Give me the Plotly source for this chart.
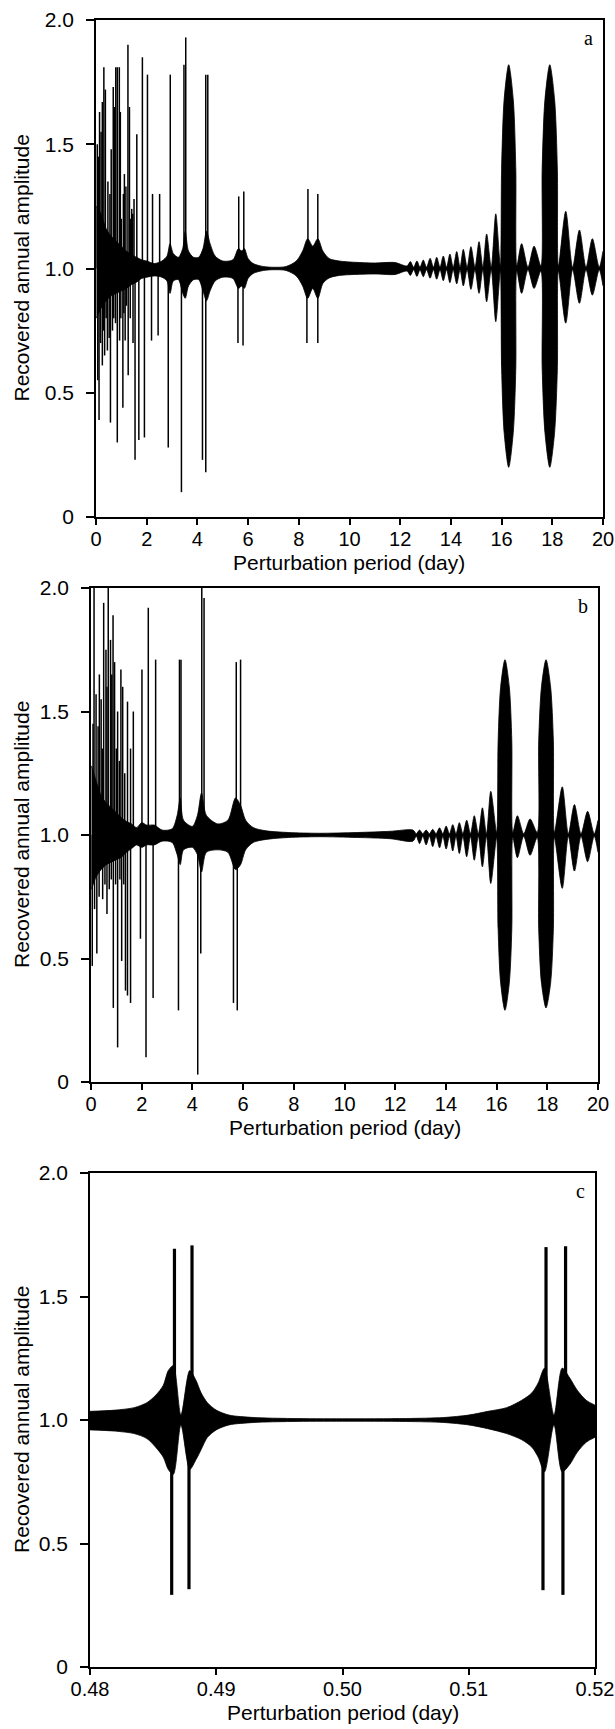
import plotly.graph_objects as go

W, H = 615, 1729

# ---------------- panel a ----------------
# envelope of the dense oscillation (upper / lower edge)
a_env_x = [0.02, 0.2, 0.4, 0.6, 0.8, 1.0, 1.2, 1.4, 1.6, 1.8, 2.0, 2.3, 2.6, 2.8, 2.92,
           3.05, 3.25, 3.42, 3.52, 3.65, 3.85, 4.05, 4.22, 4.36, 4.5, 4.7, 5.0, 5.4,
           5.62, 5.75, 5.85, 6.0, 6.2, 6.6, 7.0, 7.5, 7.9, 8.15, 8.35, 8.55, 8.75, 8.95,
           9.2, 9.6, 10.2, 11.0, 11.8, 12.27, 12.40, 12.53, 12.66, 12.78, 12.91, 13.04,
           13.18, 13.31, 13.44, 13.57, 13.70, 13.83, 13.96, 14.09, 14.23, 14.36, 14.49,
           14.64, 14.79, 14.95, 15.11, 15.26, 15.41, 15.59, 15.77, 15.95, 16.0, 16.1,
           16.28, 16.46, 16.56, 16.6, 16.79, 17.04, 17.28, 17.55, 17.6, 17.71, 17.9,
           18.09, 18.2, 18.24, 18.53, 18.8, 19.07, 19.33, 19.58, 19.85, 20.0]
a_env_hi = [1.25, 1.22, 1.16, 1.13, 1.11, 1.09, 1.07, 1.055, 1.045, 1.035, 1.03, 1.02, 1.03,
            1.05, 1.10, 1.06, 1.045, 1.08, 1.15, 1.07, 1.045, 1.045, 1.08, 1.15, 1.10,
            1.05, 1.03, 1.035, 1.08, 1.07, 1.08, 1.04, 1.02, 1.008, 1.005, 1.008, 1.03,
            1.07, 1.12, 1.09, 1.12, 1.07, 1.04, 1.03, 1.025, 1.022, 1.024, 1.01, 1.028,
            1.005, 1.03, 1.005, 1.034, 1.005, 1.041, 1.005, 1.045, 1.005, 1.05, 1.005,
            1.058, 1.005, 1.068, 1.005, 1.077, 1.005, 1.088, 1.005, 1.108, 1.005, 1.139,
            1.005, 1.22, 1.01, 1.40, 1.68, 1.82, 1.68, 1.40, 1.01, 1.10, 1.005, 1.09,
            1.01, 1.40, 1.68, 1.82, 1.68, 1.40, 1.01, 1.23, 1.005, 1.155, 1.005, 1.12,
            1.005, 1.07]
a_env_lo = [0.80, 0.84, 0.87, 0.89, 0.90, 0.91, 0.92, 0.935, 0.945, 0.96, 0.965, 0.97, 0.965,
            0.95, 0.90, 0.95, 0.955, 0.90, 0.88, 0.93, 0.955, 0.955, 0.91, 0.87, 0.91,
            0.95, 0.965, 0.96, 0.92, 0.93, 0.92, 0.96, 0.98, 0.992, 0.995, 0.992, 0.97,
            0.93, 0.88, 0.92, 0.88, 0.94, 0.962, 0.972, 0.976, 0.978, 0.976, 0.99, 0.972,
            0.995, 0.968, 0.995, 0.967, 0.995, 0.961, 0.995, 0.957, 0.995, 0.951, 0.995,
            0.943, 0.995, 0.938, 0.995, 0.930, 0.995, 0.916, 0.995, 0.900, 0.995, 0.866,
            0.995, 0.786, 0.99, 0.60, 0.34, 0.20, 0.34, 0.60, 0.99, 0.90, 0.995, 0.92,
            0.99, 0.60, 0.34, 0.20, 0.34, 0.60, 0.99, 0.78, 0.995, 0.86, 0.995, 0.893,
            0.995, 0.93]
# narrow resonance spikes (upward tips and downward tips)
a_up_x = [0.05, 0.10, 0.14, 0.20, 0.25, 0.31, 0.37, 0.47, 0.55, 0.60, 0.68, 0.72, 0.78,
          0.84, 0.92, 0.96, 1.00, 1.08, 1.12, 1.18, 1.26, 1.32, 1.36, 1.41, 1.45, 1.50,
          1.61, 1.83, 2.03, 2.23, 2.51, 2.93, 3.47, 3.54, 4.33, 4.41, 5.63, 5.83, 8.36,
          8.75]
a_up_y = [1.50, 1.45, 1.63, 1.55, 1.67, 1.81, 1.72, 1.35, 1.30, 1.48, 1.73, 1.65, 1.81,
          1.81, 1.81, 1.63, 1.20, 1.30, 1.38, 1.33, 1.90, 1.65, 1.20, 1.24, 1.22, 1.28,
          1.54, 1.85, 1.78, 1.30, 1.30, 1.78, 1.82, 1.93, 1.78, 1.78, 1.29, 1.31, 1.32,
          1.30]
a_dn_x = [0.07, 0.12, 0.18, 0.25, 0.30, 0.34, 0.40, 0.45, 0.52, 0.57, 0.65, 0.70, 0.77,
          0.84, 0.93, 0.98, 1.06, 1.10, 1.15, 1.20, 1.27, 1.35, 1.46, 1.54, 1.69, 1.91,
          2.19, 2.45, 2.85, 3.37, 4.20, 4.33, 5.60, 5.80, 8.32, 8.75]
a_dn_y = [0.55, 0.39, 0.70, 0.61, 0.75, 0.65, 0.80, 0.67, 0.72, 0.38, 0.75, 0.80, 0.78,
          0.30, 0.71, 0.80, 0.44, 0.82, 0.71, 0.85, 0.57, 0.80, 0.70, 0.23, 0.31, 0.32,
          0.71, 0.73, 0.28, 0.10, 0.23, 0.18, 0.70, 0.69, 0.70, 0.70]

# ---------------- panel b ----------------
b_env_x = [0.02, 0.2, 0.4, 0.6, 0.8, 1.0, 1.2, 1.4, 1.6, 1.8, 2.0, 2.2, 2.5, 2.8, 3.2,
           3.4, 3.52, 3.65, 4.0, 4.2, 4.36, 4.55, 5.0, 5.4, 5.7, 5.9, 6.1, 6.4, 6.9, 7.8,
           9.0, 10.5, 11.8, 12.7, 12.83, 12.96, 13.09, 13.22, 13.35, 13.48, 13.61, 13.75,
           13.88, 14.01, 14.14, 14.27, 14.40, 14.53, 14.67, 14.82, 14.97, 15.12, 15.28,
           15.44, 15.60, 15.77, 16.0, 16.06, 16.16, 16.33, 16.50, 16.60, 16.64, 16.82,
           17.07, 17.32, 17.6, 17.66, 17.77, 17.95, 18.13, 18.24, 18.28, 18.59, 18.83,
           19.07, 19.33, 19.59, 19.85, 20.0]
b_env_hi = [1.28, 1.22, 1.16, 1.13, 1.11, 1.09, 1.07, 1.055, 1.045, 1.03, 1.05, 1.04, 1.04,
            1.02, 1.025, 1.08, 1.15, 1.06, 1.035, 1.08, 1.17, 1.08, 1.045, 1.06, 1.15,
            1.12, 1.06, 1.03, 1.017, 1.01, 1.007, 1.01, 1.015, 1.02, 1.005, 1.02, 1.005,
            1.02, 1.005, 1.023, 1.005, 1.029, 1.005, 1.036, 1.005, 1.042, 1.005, 1.05,
            1.005, 1.06, 1.005, 1.078, 1.005, 1.11, 1.005, 1.177, 1.01, 1.38, 1.60, 1.71,
            1.60, 1.38, 1.01, 1.078, 1.005, 1.065, 1.01, 1.38, 1.60, 1.71, 1.60, 1.38,
            1.01, 1.195, 1.005, 1.123, 1.005, 1.096, 1.005, 1.06]
b_env_lo = [0.78, 0.83, 0.86, 0.88, 0.89, 0.90, 0.91, 0.93, 0.945, 0.96, 0.95, 0.96, 0.96,
            0.975, 0.97, 0.92, 0.88, 0.94, 0.95, 0.92, 0.85, 0.93, 0.94, 0.93, 0.86, 0.88,
            0.94, 0.97, 0.982, 0.99, 0.993, 0.99, 0.985, 0.975, 0.995, 0.965, 0.995,
            0.96, 0.995, 0.953, 0.995, 0.948, 0.995, 0.943, 0.995, 0.935, 0.995, 0.925,
            0.995, 0.912, 0.995, 0.898, 0.995, 0.871, 0.995, 0.804, 0.99, 0.62, 0.40,
            0.29, 0.40, 0.62, 0.99, 0.908, 0.995, 0.918, 0.99, 0.62, 0.40, 0.30, 0.40,
            0.62, 0.99, 0.784, 0.995, 0.854, 0.995, 0.892, 0.995, 0.93]
b_up_x = [0.08, 0.12, 0.20, 0.28, 0.33, 0.40, 0.45, 0.50, 0.59, 0.63, 0.68, 0.77, 0.82,
          0.87, 0.93, 1.00, 1.05, 1.12, 1.18, 1.25, 1.33, 1.44, 1.56, 1.67, 2.01, 2.26,
          2.55, 3.49, 3.55, 4.37, 4.46, 5.73, 5.90]
b_up_y = [1.45, 2.00, 1.57, 1.44, 1.65, 1.55, 1.35, 1.94, 1.75, 1.60, 2.00, 1.79, 1.65,
          1.89, 1.70, 1.35, 1.50, 1.30, 1.67, 1.60, 1.25, 1.54, 1.35, 1.50, 1.67, 1.92,
          1.71, 1.71, 1.71, 2.00, 1.96, 1.70, 1.71]
b_dn_x = [0.05, 0.14, 0.23, 0.32, 0.46, 0.55, 0.63, 0.72, 0.80, 0.88, 0.97, 1.05, 1.14,
          1.21, 1.29, 1.36, 1.44, 1.56, 1.95, 2.17, 2.45, 3.45, 4.21, 4.33, 5.62, 5.77]
b_dn_y = [0.47, 0.70, 0.52, 0.75, 0.74, 0.80, 0.68, 0.78, 0.82, 0.30, 0.80, 0.14, 0.82,
          0.49, 0.80, 0.37, 0.35, 0.32, 0.58, 0.10, 0.34, 0.29, 0.03, 0.52, 0.32, 0.29]

# ---------------- panel c ----------------
c_env_x = [0.4800, 0.4820, 0.4835, 0.4845, 0.4852, 0.4858, 0.4862, 0.4866, 0.4872,
           0.4879, 0.4884, 0.4888, 0.4893, 0.4900, 0.4910, 0.4930, 0.4960, 0.5000,
           0.5050, 0.5080, 0.5100, 0.5115, 0.5130, 0.5142, 0.5150, 0.5155, 0.5160,
           0.51675, 0.5174, 0.5180, 0.5186, 0.5193, 0.5200]
c_env_hi = [1.035, 1.04, 1.05, 1.07, 1.10, 1.14, 1.20, 1.22, 1.02, 1.20, 1.16, 1.11, 1.07,
            1.04, 1.02, 1.01, 1.006, 1.005, 1.006, 1.01, 1.02, 1.035, 1.05, 1.08, 1.11,
            1.15, 1.21, 1.02, 1.21, 1.17, 1.12, 1.08, 1.06]
c_env_lo = [0.96, 0.955, 0.945, 0.925, 0.89, 0.85, 0.80, 0.78, 0.98, 0.80, 0.84, 0.88, 0.93,
            0.96, 0.98, 0.99, 0.994, 0.995, 0.994, 0.99, 0.98, 0.965, 0.945, 0.92, 0.89,
            0.85, 0.79, 0.98, 0.79, 0.82, 0.87, 0.91, 0.93]
c_up_x = [0.48669, 0.48808, 0.51612, 0.51767]
c_up_y = [1.693, 1.707, 1.700, 1.703]
c_dn_x = [0.48647, 0.48784, 0.51588, 0.51746]
c_dn_y = [0.292, 0.315, 0.311, 0.292]

y_ticks = [0, 0.5, 1.0, 1.5, 2.0]
y_ticktext = ["0", "0.5", "1.0", "1.5", "2.0"]
x_ticks_ab = list(range(0, 21, 2))
x_ticks_c = [0.48, 0.49, 0.50, 0.51, 0.52]
x_ticktext_c = ["0.48", "0.49", "0.50", "0.51", "0.52"]

# plot boxes in pixels: left, right, top, bottom
panels = [
    dict(tag="a", box=(96, 603, 20, 517), xr=[0, 20], xt=x_ticks_ab, xtt=None,
         env=(a_env_x, a_env_hi, a_env_lo), up=(a_up_x, a_up_y), dn=(a_dn_x, a_dn_y), sw=1.5),
    dict(tag="b", box=(91, 598, 588, 1082), xr=[0, 20], xt=x_ticks_ab, xtt=None,
         env=(b_env_x, b_env_hi, b_env_lo), up=(b_up_x, b_up_y), dn=(b_dn_x, b_dn_y), sw=1.5),
    dict(tag="c", box=(90, 595, 1173, 1667), xr=[0.48, 0.52], xt=x_ticks_c, xtt=x_ticktext_c,
         env=(c_env_x, c_env_hi, c_env_lo), up=(c_up_x, c_up_y), dn=(c_dn_x, c_dn_y), sw=3.2),
]

SANS = "Liberation Sans, Arial, sans-serif"
SERIF = "Liberation Serif, Times New Roman, serif"
FS = 21


def px(x):
    return x / W


def py(y):
    return 1 - y / H


fig = go.Figure()
annotations = []

for i, p in enumerate(panels, start=1):
    xa = "x" if i == 1 else f"x{i}"
    ya = "y" if i == 1 else f"y{i}"
    l, r, t, b = p["box"]
    ex, ehi, elo = p["env"]

    fig.add_trace(go.Scatter(x=ex, y=elo, mode="lines", xaxis=xa, yaxis=ya,
                             line=dict(color="black", width=0.8, shape="spline", smoothing=0.8),
                             hoverinfo="skip", showlegend=False))
    fig.add_trace(go.Scatter(x=ex, y=ehi, mode="lines", xaxis=xa, yaxis=ya, fill="tonexty",
                             fillcolor="black",
                             line=dict(color="black", width=0.8, shape="spline", smoothing=0.8),
                             hoverinfo="skip", showlegend=False))

    sx, sy = [], []
    for xs, ys in (p["up"], p["dn"]):
        for xv, yv in zip(xs, ys):
            sx += [xv, xv, None]
            sy += [1.0, yv, None]
    fig.add_trace(go.Scatter(x=sx, y=sy, mode="lines", xaxis=xa, yaxis=ya,
                             line=dict(color="black", width=p["sw"]),
                             hoverinfo="skip", showlegend=False))

    xkey = "xaxis" if i == 1 else f"xaxis{i}"
    ykey = "yaxis" if i == 1 else f"yaxis{i}"
    xdict = dict(domain=[px(l), px(r)], anchor=ya, range=p["xr"], tickvals=p["xt"],
                 ticks="outside", ticklen=6, tickwidth=1.5, tickcolor="black",
                 showline=True, mirror=True, linecolor="black", linewidth=1.6,
                 showgrid=False, zeroline=False, automargin=False,
                 ticklabelstandoff=-3, ticklabeloverflow="allow",
                 tickfont=dict(family=SANS, size=20, color="black"))
    if p["xtt"]:
        xdict["ticktext"] = p["xtt"]
    fig.update_layout({
        xkey: xdict,
        ykey: dict(domain=[py(b), py(t)], anchor=xa, range=[0, 2], tickvals=y_ticks,
                   ticktext=y_ticktext, ticks="outside", ticklen=8, tickwidth=1.5,
                   tickcolor="black", showline=True, mirror=True, linecolor="black",
                   linewidth=1.6, showgrid=False, zeroline=False, ticklabelstandoff=8,
                   automargin=False, ticklabeloverflow="allow",
                   tickfont=dict(family=SANS, size=FS, color="black")),
    })

    annotations.append(dict(text="Recovered annual amplitude", xref="paper", yref="paper",
                            x=px(21), y=py((t + b) / 2), textangle=-90, showarrow=False,
                            xanchor="center", yanchor="middle",
                            font=dict(family=SANS, size=FS, color="black")))
    annotations.append(dict(text="Perturbation period (day)", xref="paper", yref="paper",
                            x=px((l + r) / 2), y=py(b + 45), showarrow=False,
                            xanchor="center", yanchor="middle",
                            font=dict(family=SANS, size=FS, color="black")))
    annotations.append(dict(text=p["tag"], xref="paper", yref="paper",
                            x=px(r - 15), y=py(t + 18), showarrow=False,
                            xanchor="center", yanchor="middle",
                            font=dict(family=SERIF, size=20, color="black")))

fig.update_layout(width=W, height=H, margin=dict(l=0, r=0, t=0, b=0, autoexpand=False),
                  paper_bgcolor="white", plot_bgcolor="white",
                  showlegend=False, annotations=annotations)

# the page's default body margin would shift the figure and add scrollbars
fig.write_html("out.html", config={"displayModeBar": False},
               post_script="document.body.style.margin='0';document.body.style.overflow='hidden';")
